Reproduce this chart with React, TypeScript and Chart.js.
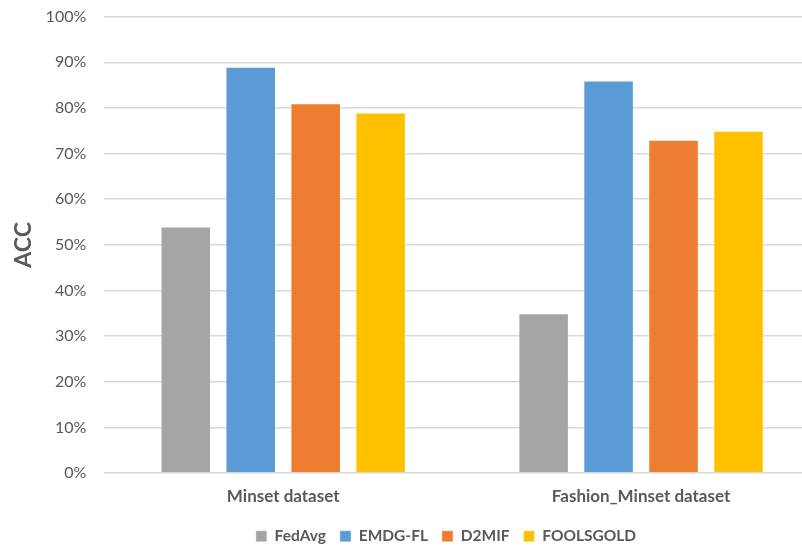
import { useEffect, useRef } from "react";
import { Chart, registerables } from "chart.js";

Chart.register(...registerables);

// Accuracy per method on each dataset (percent)
const categories = ["Minset dataset", "Fashion_Minset dataset"];
const seriesNames = ["FedAvg", "EMDG-FL", "D2MIF", "FOOLSGOLD"];
const fedAvg = [54, 35];
const emdgFl = [89, 86];
const d2mif = [81, 73];
const foolsgold = [79, 75];
const yTickValues = [0, 10, 20, 30, 40, 50, 60, 70, 80, 90, 100];

const seriesColors = ["#A5A5A5", "#5B9BD5", "#ED7D31", "#FFC000"];
const TEXT = "#595959";
const FONT = "Lato, 'Liberation Sans', sans-serif";

// Nudges the bottom legend after layout
const legendShift = {
  id: "legendShift",
  afterLayout(chart: any, _args: any, opts: any) {
    const lg = chart.legend;
    if (!lg) return;
    const dx = opts.dx || 0;
    const dy = opts.dy || 0;
    lg.left += dx;
    lg.right += dx;
    lg.top += dy;
    lg.bottom += dy;
  },
};

export default function App() {
  const ref = useRef<HTMLCanvasElement | null>(null);

  useEffect(() => {
    if (!ref.current) return;
    const values = [fedAvg, emdgFl, d2mif, foolsgold];
    const chart = new Chart(ref.current, {
      type: "bar",
      data: {
        labels: categories,
        datasets: seriesNames.map((name, i) => ({
          label: name,
          data: values[i],
          backgroundColor: seriesColors[i],
          borderColor: "rgba(255,255,255,0.35)",
          borderWidth: 1,
          categoryPercentage: 0.726,
          barPercentage: 0.778,
        })),
      },
      plugins: [legendShift],
      options: {
        responsive: false,
        animation: false,
        devicePixelRatio: 1,
        layout: { padding: { top: 0, bottom: -11, left: 10, right: 2 } },
        plugins: {
          legendShift: { dx: 31, dy: -5 },
          tooltip: { enabled: false },
          legend: {
            position: "bottom",
            labels: {
              boxWidth: 11,
              boxHeight: 11,
              padding: 14,
              color: TEXT,
              font: { family: FONT, size: 15.5, weight: "bold" },
            },
          },
        } as any,
        scales: {
          x: {
            grid: { display: false, drawTicks: false },
            border: { display: false },
            ticks: {
              color: TEXT,
              padding: 13,
              font: { family: FONT, size: 17, weight: "bold" },
            },
          },
          y: {
            min: 0,
            max: 100,
            afterBuildTicks: (axis: any) => {
              axis.ticks = yTickValues.map((v) => ({ value: v }));
            },
            grid: { color: "#D9D9D9", lineWidth: 1.5, drawTicks: false },
            border: { display: false },
            ticks: {
              color: TEXT,
              padding: 18,
              font: { family: FONT, size: 16 },
              callback: (v: any) => `${v}%`,
            },
            title: {
              display: true,
              text: "ACC",
              color: TEXT,
              padding: { top: 0, bottom: -10 },
              font: { family: FONT, size: 23, weight: "bold" },
            },
          },
        },
      },
    });
    return () => chart.destroy();
  }, []);

  return (
    <div
      style={{
        position: "absolute",
        left: 0,
        top: 0,
        width: 802,
        height: 548,
        overflow: "hidden",
        background: "#fff",
      }}
    >
      <canvas
        ref={ref}
        width={822}
        height={559}
        style={{ display: "block", position: "absolute", left: 0, top: -11 }}
      />
    </div>
  );
}
